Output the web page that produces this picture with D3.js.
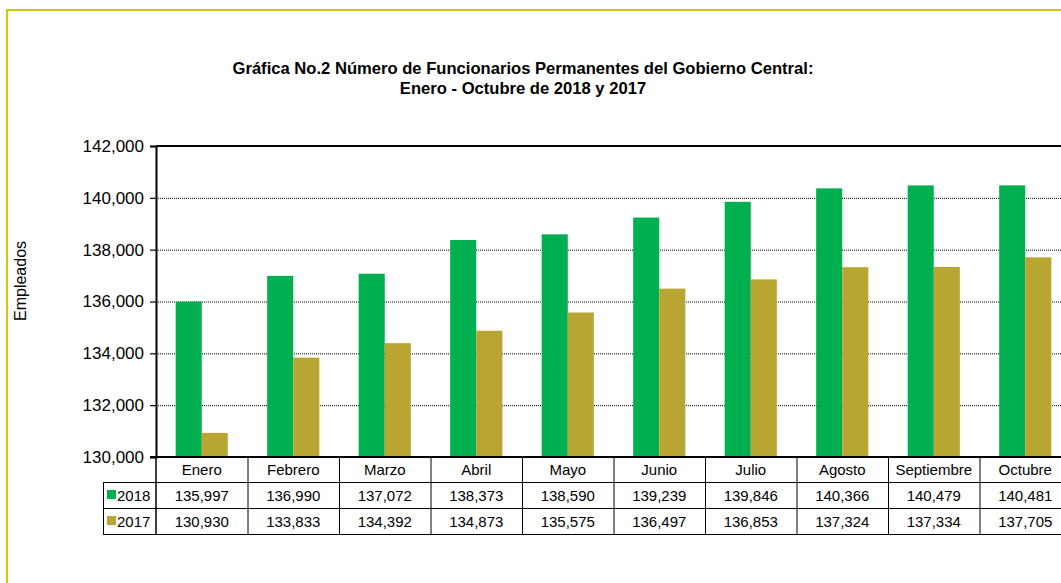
<!DOCTYPE html>
<html>
<head>
<meta charset="utf-8">
<script src="https://cdn.jsdelivr.net/npm/d3@7"></script>
<style>
  body { margin: 0; background: #fff; }
  svg { display: block; font-family: "Liberation Sans", Arial, sans-serif; }
</style>
</head>
<body>
<svg id="chart" width="1061" height="583"></svg>
<script>
// datos
var meses = ["Enero", "Febrero", "Marzo", "Abril", "Mayo", "Junio", "Julio", "Agosto", "Septiembre", "Octubre"];
var series = ["2018", "2017"];
var valores2018 = [135997, 136990, 137072, 138373, 138590, 139239, 139846, 140366, 140479, 140481];
var valores2017 = [130930, 133833, 134392, 134873, 135575, 136497, 136853, 137324, 137334, 137705];
var colores = ["#00b050", "#b9a532"];
var yTicks = [130000, 132000, 134000, 136000, 138000, 140000, 142000];

var svg = d3.select("#chart");
var plotLeft = 156, plotRight = 1071, plotTop = 146, plotBottom = 457;
var rowH = 26;

// borde exterior
svg.append("rect")
    .attr("x", 7).attr("y", 10)
    .attr("width", 1100).attr("height", 620)
    .attr("fill", "none")
    .attr("stroke", "#c9c912")
    .attr("stroke-width", 2);

// titulo
var title = svg.append("text")
    .attr("text-anchor", "middle")
    .attr("font-weight", "bold")
    .attr("font-size", "16.6px")
    .attr("fill", "#000");
title.append("tspan").attr("x", 523).attr("y", 74)
    .text("Gráfica No.2 Número de Funcionarios Permanentes del Gobierno Central:");
title.append("tspan").attr("x", 523).attr("y", 94)
    .text("Enero - Octubre de 2018 y 2017");

var x0 = d3.scaleBand().domain(meses).range([plotLeft, plotRight]).padding(0);
var xg = d3.scaleBand().domain(meses).range([plotLeft, plotRight]).paddingInner(0.43).paddingOuter(0.215);
var x1 = d3.scaleBand().domain(series).range([0, xg.bandwidth()]);
var y = d3.scaleLinear().domain([130000, 142000]).range([plotBottom, plotTop]);

// lineas de cuadricula
svg.append("g").selectAll("line")
    .data(yTicks.slice(1, -1))
    .join("line")
    .attr("x1", plotLeft).attr("x2", plotRight)
    .attr("y1", d => y(d) + 0.5).attr("y2", d => y(d) + 0.5)
    .attr("stroke", "#000")
    .attr("stroke-width", 1)
    .attr("stroke-dasharray", "1,1");

// barras
var datos = meses.map((m, i) => ({ mes: m, vals: [valores2018[i], valores2017[i]] }));
svg.append("g").selectAll("g")
    .data(datos)
    .join("g")
    .attr("transform", d => "translate(" + xg(d.mes) + ",0)")
    .selectAll("rect")
    .data(d => d.vals.map((v, j) => ({ serie: series[j], v: v, c: colores[j] })))
    .join("rect")
    .attr("x", d => x1(d.serie))
    .attr("width", x1.bandwidth())
    .attr("y", d => y(d.v))
    .attr("height", d => plotBottom - y(d.v))
    .attr("fill", d => d.c);

// marco superior
svg.append("line").attr("x1", plotLeft).attr("x2", plotRight).attr("y1", plotTop).attr("y2", plotTop)
    .attr("stroke", "#000").attr("stroke-width", 2);

// eje y
var yAxis = svg.append("g")
    .attr("transform", "translate(" + plotLeft + ",0)")
    .call(d3.axisLeft(y).tickValues(yTicks).tickFormat(d3.format(",")).tickSize(6).tickPadding(6));
yAxis.select(".domain").attr("stroke-width", 2);
yAxis.selectAll("line").attr("stroke-width", 1.2);
yAxis.selectAll("text").attr("font-size", "17px").attr("font-family", "Liberation Sans, Arial, sans-serif").attr("fill", "#000");

svg.append("text")
    .attr("transform", "translate(26,281) rotate(-90)")
    .attr("text-anchor", "middle")
    .attr("font-size", "16px")
    .text("Empleados");

// tabla de datos
var tabla = svg.append("g");
var tablaLeft = 103;
[1, 2, 3].forEach(function (r) {
    tabla.append("line")
        .attr("x1", tablaLeft).attr("x2", plotRight)
        .attr("y1", plotBottom + rowH * r - 0.5).attr("y2", plotBottom + rowH * r - 0.5)
        .attr("stroke", "#000").attr("stroke-width", 1);
});
tabla.selectAll("line.v")
    .data(meses.slice(1))
    .join("line")
    .attr("class", "v")
    .attr("x1", d => x0(d) + 0.5)
    .attr("x2", d => x0(d) + 0.5)
    .attr("y1", plotBottom).attr("y2", plotBottom + rowH * 3)
    .attr("stroke", "#000").attr("stroke-width", 1);
tabla.append("line").attr("x1", plotLeft).attr("x2", plotLeft)
    .attr("y1", plotBottom).attr("y2", plotBottom + rowH * 3)
    .attr("stroke", "#000").attr("stroke-width", 1.5);
tabla.append("line").attr("x1", tablaLeft + 0.5).attr("x2", tablaLeft + 0.5)
    .attr("y1", plotBottom + rowH).attr("y2", plotBottom + rowH * 3)
    .attr("stroke", "#000").attr("stroke-width", 1);

// eje x (linea base)
svg.append("line").attr("x1", plotLeft - 6).attr("x2", plotRight).attr("y1", plotBottom).attr("y2", plotBottom)
    .attr("stroke", "#000").attr("stroke-width", 2);

// etiquetas de meses
tabla.selectAll("text.mes")
    .data(meses)
    .join("text")
    .attr("class", "mes")
    .attr("x", d => x0(d) + x0.bandwidth() / 2)
    .attr("y", plotBottom + 18)
    .attr("text-anchor", "middle")
    .attr("font-size", "15px")
    .text(d => d);

// filas de valores
var fmt = d3.format(",");
[valores2018, valores2017].forEach(function (vals, r) {
    var yy = plotBottom + rowH * (r + 1) + 18;
    tabla.append("rect")
        .attr("x", 107).attr("y", yy - 11)
        .attr("width", 9).attr("height", 9)
        .attr("fill", colores[r]);
    tabla.append("text")
        .attr("x", 117).attr("y", yy)
        .attr("font-size", "15px")
        .text(series[r]);
    tabla.selectAll("text.v" + r)
        .data(vals)
        .join("text")
        .attr("class", "v" + r)
        .attr("x", (d, i) => x0(meses[i]) + x0.bandwidth() / 2)
        .attr("y", yy)
        .attr("text-anchor", "middle")
        .attr("font-size", "15px")
        .text(d => fmt(d));
});
</script>
</body>
</html>
